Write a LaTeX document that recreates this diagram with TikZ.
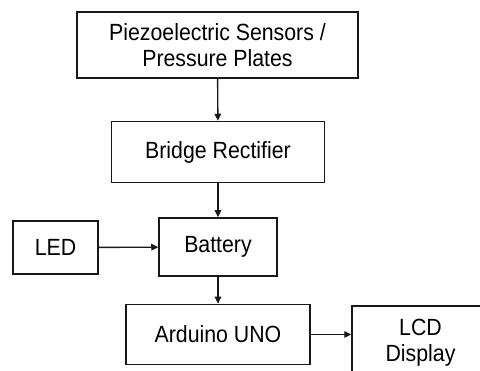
\documentclass[tikz,border=0pt]{standalone}
\usepackage{fontspec}
\setmainfont{Liberation Sans}
\usetikzlibrary{arrows.meta}
\newcommand\vstr[1]{\scalebox{1}[1.1]{#1}}
\begin{document}
\begin{tikzpicture}[x=1pt,y=-1pt,
  blk/.style={draw=black!90,line width=1.5pt,inner sep=0pt,align=center,
    font=\fontsize{21.3}{26.5}\selectfont,text=black},
  conn/.style={draw=black!90,line width=1.4pt,-{Triangle[length=7pt,width=6.5pt]}}]
\useasboundingbox (0,0) rectangle (480,371);
\clip (0,0) rectangle (480,371);
\node[blk,minimum width=281pt,minimum height=66pt] (piezo) at (217.5,45) {\vstr{Piezoelectric Sensors /}\\\vstr{Pressure Plates}};
\node[blk,minimum width=213pt,minimum height=61pt] (bridge) at (218,152) {\vstr{Bridge Rectifier}};
\node[blk,minimum width=118pt,minimum height=58pt] (batt) at (218,247) {\vstr{Battery}};
\node[blk,minimum width=85pt,minimum height=53pt] (led) at (55.5,247.5) {\vstr{LED}};
\node[blk,minimum width=184pt,minimum height=60pt] (ard) at (218,334.5) {\vstr{Arduino UNO}};
\node[blk,minimum width=137pt,minimum height=74pt] (lcd) at (420.5,343) {\vstr{LCD}\\\vstr{Display}};
\draw[conn] (piezo) -- (bridge);
\draw[conn] (bridge) -- (batt);
\draw[conn] (led) -- (batt);
\draw[conn] (batt) -- (ard);
\draw[conn] (ard.east) -- (ard.east -| lcd.west);
\end{tikzpicture}
\end{document}
